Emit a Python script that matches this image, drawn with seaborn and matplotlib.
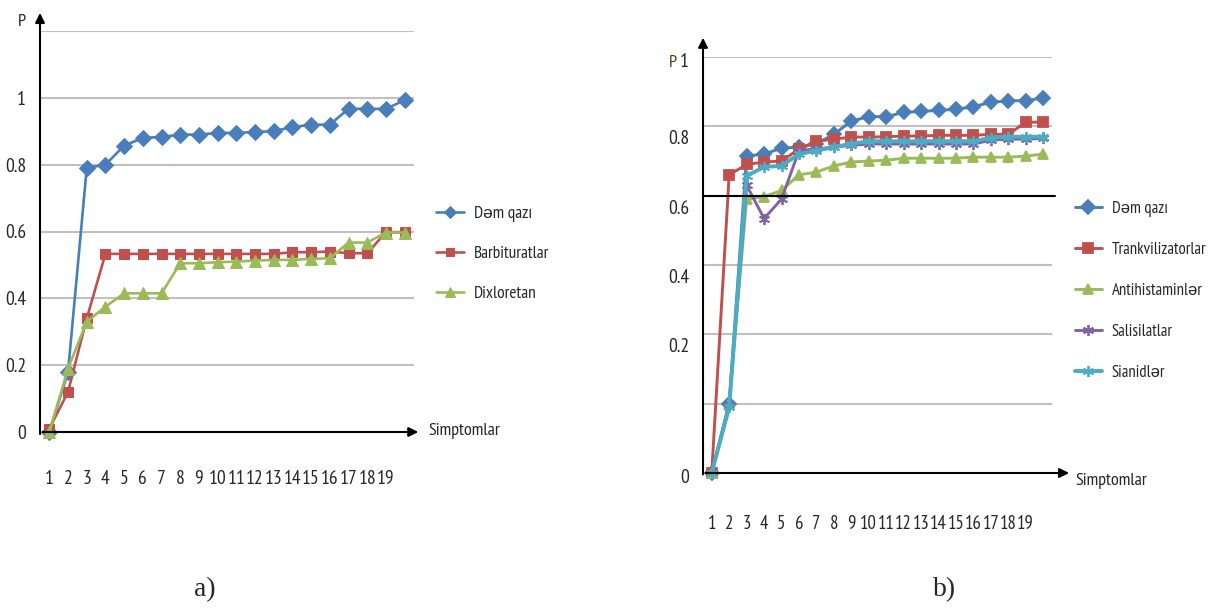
import numpy as np
import seaborn as sns
import matplotlib.pyplot as plt
from matplotlib.transforms import ScaledTranslation

# symptom index (20 points, only 1..19 labelled)
x = list(range(1, 21))
xlabels = [str(i) for i in range(1, 20)] + ['']

# a) panel
dem_a = [0.0, 0.18, 0.79, 0.80, 0.857, 0.88, 0.883, 0.89, 0.89, 0.895,
         0.895, 0.898, 0.90, 0.913, 0.919, 0.92, 0.967, 0.967, 0.967, 0.993]
barb_a = [0.01, 0.12, 0.34, 0.533, 0.533, 0.533, 0.533, 0.533, 0.533, 0.533,
          0.533, 0.533, 0.533, 0.538, 0.538, 0.54, 0.535, 0.535, 0.598, 0.598]
dixl_a = [0.0, 0.19, 0.33, 0.375, 0.415, 0.415, 0.415, 0.505, 0.505, 0.508,
          0.51, 0.513, 0.515, 0.515, 0.518, 0.52, 0.567, 0.567, 0.597, 0.597]

# b) panel
dem_b = [0.0, 0.1, 0.714, 0.72, 0.737, 0.74, 0.75, 0.777, 0.815, 0.828,
         0.828, 0.84, 0.843, 0.846, 0.849, 0.857, 0.869, 0.874, 0.874, 0.882]
trank_b = [0.0, 0.66, 0.69, 0.697, 0.70, 0.734, 0.757, 0.763, 0.769, 0.769,
           0.77, 0.772, 0.772, 0.774, 0.774, 0.774, 0.777, 0.777, 0.812, 0.812]
anti_b = [0.0, 0.1, 0.59, 0.597, 0.615, 0.66, 0.668, 0.686, 0.697, 0.70,
          0.702, 0.708, 0.708, 0.708, 0.708, 0.711, 0.711, 0.711, 0.714, 0.72]
sali_b = [0.0, 0.1, 0.63, 0.534, 0.59, 0.73, 0.735, 0.74, 0.745, 0.749,
          0.749, 0.749, 0.749, 0.749, 0.749, 0.749, 0.76, 0.763, 0.763, 0.765]
sian_b = [0.0, 0.095, 0.657, 0.683, 0.686, 0.72, 0.73, 0.74, 0.75, 0.757,
          0.757, 0.757, 0.757, 0.757, 0.757, 0.757, 0.767, 0.77, 0.77, 0.77]

sns.set_style('white')
fam = ['PT Sans Narrow', 'Liberation Sans Narrow', 'Liberation Sans', 'DejaVu Sans']
plt.rcParams['font.family'] = fam

blue, red, green, purple, cyan = '#4A7EBB', '#C0504D', '#9BBB59', '#8064A2', '#4BACC6'
grid_c = '#C0C0C0'
txt_c = '#262626'

fig = plt.figure(figsize=(12.11, 6.08), dpi=100)
ax1 = fig.add_axes([40 / 1211, 1 - 432 / 608, 374 / 1211, 401 / 608])
ax2 = fig.add_axes([703 / 1211, 1 - 473 / 608, 349 / 1211, 416 / 608])


def style_axis(ax, tick_pad, xsize):
    for s in ax.spines.values():
        s.set_visible(False)
    ax.set_xlim(0.5, 20.5)
    ax.set_xticks(x)
    ax.set_xticklabels(xlabels)
    ax.set_xticks(np.arange(1.5, 21, 1), minor=True)
    ax.tick_params(axis='x', which='major', length=0, pad=tick_pad, labelsize=xsize, colors=txt_c)
    ax.tick_params(axis='x', which='minor', length=5, width=1, color='#555555', direction='out')
    ax.tick_params(axis='y', length=0, labelsize=14, colors=txt_c, pad=10)
    ax.yaxis.grid(True, color=grid_c, lw=1.5)
    ax.xaxis.grid(False)
    ax.set_xlabel('')
    ax.set_ylabel('')


# ---- a)
for vals, lab, col, mk, ms in [(dem_a, 'Dəm qazı', blue, 'D', 8),
                               (barb_a, 'Barbituratlar', red, 's', 7.5),
                               (dixl_a, 'Dixloretan', green, '^', 8.5)]:
    sns.lineplot(x=x, y=vals, ax=ax1, color=col, marker=mk, markersize=ms,
                 markeredgecolor=col, lw=1.9, label=lab, clip_on=False)
ax1.set_ylim(0, 1.2)
ax1.set_yticks([0, 0.2, 0.4, 0.6, 0.8, 1.0, 1.2])
ax1.set_yticklabels(['0', '0.2', '0.4', '0.6', '0.8', '1', ''])
style_axis(ax1, 27, 14)
ax1.legend(loc='center left', bbox_to_anchor=(436 / 1211, 1 - 254 / 608),
           bbox_transform=fig.transFigure, frameon=False, fontsize=12.5,
           labelspacing=1.35, handlelength=1.6, handletextpad=0.6,
           borderpad=0, borderaxespad=0, markerscale=0.8, labelcolor=txt_c)
ax1.annotate('', xy=(1.019, 0), xytext=(0, 0), xycoords='axes fraction',
             arrowprops=dict(arrowstyle='-|>', color='black', lw=1.5, mutation_scale=14))
ax1.annotate('', xy=(0, 1.052), xytext=(0, -0.012), xycoords='axes fraction',
             arrowprops=dict(arrowstyle='-|>', color='black', lw=1.5, mutation_scale=14))
fig.text(428 / 1211, 1 - 431 / 608, 'Simptomlar', fontsize=13, va='center', ha='left', color=txt_c)
fig.text(22 / 1211, 1 - 22 / 608, 'P', fontsize=13, va='center', ha='center', color=txt_c)


# ---- b) piecewise y scale: 0-0.2 takes two grid steps, 0.2-1 four
def fwd(v):
    v = np.asarray(v, dtype=float)
    return np.where(v < 0.2, v * 10, 2 + (v - 0.2) * 5)


def inv(u):
    u = np.asarray(u, dtype=float)
    return np.where(u < 2, u / 10, 0.2 + (u - 2) / 5)


ax2.set_yscale('function', functions=(fwd, inv))
for vals, lab, col, mk, ms, lw in [(dem_b, 'Dəm qazı', blue, 'D', 7, 2.1),
                                   (trank_b, 'Trankvilizatorlar', red, 's', 6.5, 2.1),
                                   (anti_b, 'Antihistaminlər', green, '^', 7, 2.1),
                                   (sali_b, 'Salisilatlar', purple, (6, 2, 0), 8, 2.1),
                                   (sian_b, 'Sianidlər', cyan, (6, 2, 0), 8, 2.8)]:
    sns.lineplot(x=x, y=vals, ax=ax2, color=col, marker=mk, markersize=ms,
                 markeredgecolor=col, markeredgewidth=1.3, lw=lw, label=lab, clip_on=False)
ax2.set_ylim(0, 1.0)
ax2.set_yticks([0, 0.1, 0.2, 0.4, 0.6, 0.8, 1.0])
ax2.set_yticklabels(['0', '', '0.2', '0.4', '0.6', '0.8', '1'])
style_axis(ax2, 30, 13.5)
ax2.axhline(0.6, color='black', lw=1.5, xmax=1.01, clip_on=False)
for t in ax2.get_yticklabels():
    dy = 11 if t.get_text() in ('0.2', '0.4', '0.6', '0.8') else 3
    t.set_transform(t.get_transform() + ScaledTranslation(0, -dy / 100, fig.dpi_scale_trans))
ax2.legend(loc='center left', bbox_to_anchor=(1075 / 1211, 1 - 291 / 608),
           bbox_transform=fig.transFigure, frameon=False, fontsize=12,
           labelspacing=1.5, handlelength=1.6, handletextpad=0.6,
           borderpad=0, borderaxespad=0, labelcolor=txt_c)
ax2.annotate('', xy=(1.057, 0), xytext=(0, 0), xycoords='axes fraction',
             arrowprops=dict(arrowstyle='-|>', color='black', lw=1.5, mutation_scale=14))
ax2.annotate('', xy=(0, 1.053), xytext=(0, -0.01), xycoords='axes fraction',
             arrowprops=dict(arrowstyle='-|>', color='black', lw=1.5, mutation_scale=14))
fig.text(1075 / 1211, 1 - 481 / 608, 'Simptomlar', fontsize=13, va='center', ha='left', color=txt_c)
fig.text(673 / 1211, 1 - 63 / 608, 'P', fontsize=13, va='center', ha='center', color='#5a3a10')

# captions
fig.text(205 / 1211, 1 - 590 / 608, 'a)', fontsize=20, ha='center', va='center',
         family=['Liberation Serif', 'DejaVu Serif'])
fig.text(945 / 1211, 1 - 590 / 608, 'b)', fontsize=20, ha='center', va='center',
         family=['Liberation Serif', 'DejaVu Serif'])

fig.savefig('out.png', dpi=100)
